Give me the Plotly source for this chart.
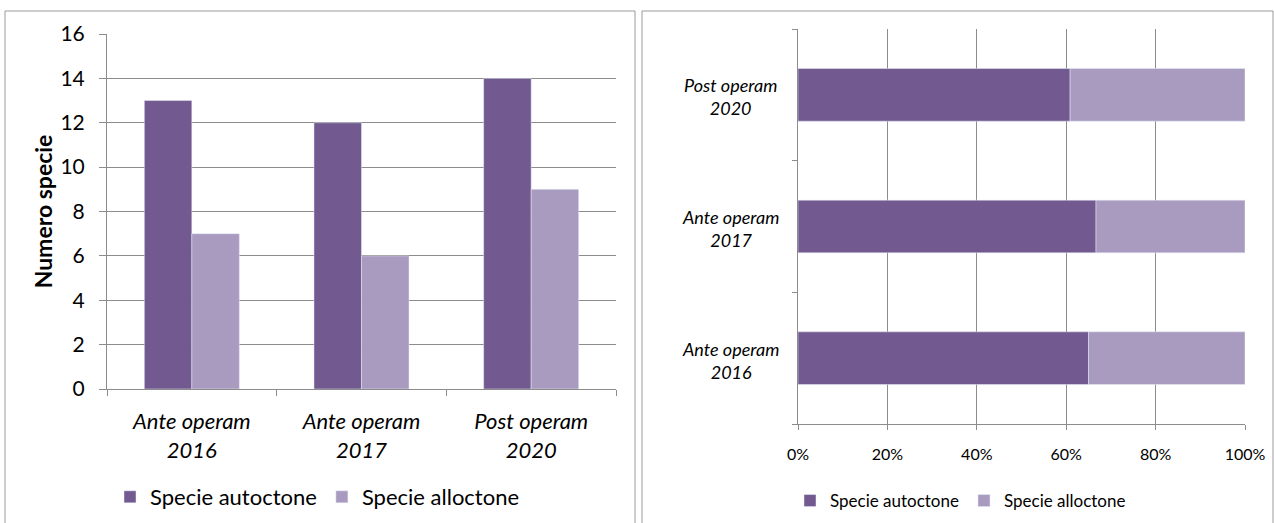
import plotly.graph_objects as go

categories = ["Ante operam 2016", "Ante operam 2017", "Post operam 2020"]
tick_labels = ["Ante operam<br>2016", "Ante operam<br>2017", "Post operam<br>2020"]
autoctone = [13, 12, 14]
alloctone = [7, 6, 9]
series_names = ["Specie autoctone", "Specie alloctone"]
colors = ["#72598F", "#A99ABF"]

pct_auto = [a / (a + b) * 100 for a, b in zip(autoctone, alloctone)]
pct_allo = [b / (a + b) * 100 for a, b in zip(autoctone, alloctone)]

W, H = 1274, 523
FONT = "Lato"
GRID = "#8C8C8C"

def px(x):
    return x / W

def py(y):
    return 1 - y / H

fig = go.Figure()

# left: grouped bars
fig.add_trace(go.Bar(x=categories, y=autoctone, name=series_names[0],
                     marker=dict(color=colors[0]), xaxis="x", yaxis="y",
                     legend="legend", offsetgroup="a"))
fig.add_trace(go.Bar(x=categories, y=alloctone, name=series_names[1],
                     marker=dict(color=colors[1]), xaxis="x", yaxis="y",
                     legend="legend", offsetgroup="b"))

# right: 100% stacked horizontal bars
fig.add_trace(go.Bar(y=categories, x=pct_auto, name=series_names[0], orientation="h",
                     marker=dict(color=colors[0]), xaxis="x2", yaxis="y2",
                     legend="legend2", offsetgroup="s", width=0.4))
fig.add_trace(go.Bar(y=categories, x=pct_allo, base=pct_auto, name=series_names[1],
                     orientation="h", marker=dict(color=colors[1]), xaxis="x2", yaxis="y2",
                     legend="legend2", offsetgroup="s", width=0.4))

annotations = []
for c, t in zip(categories, tick_labels):
    annotations.append(dict(x=px(730), xref="paper", y=c, yref="y2", yshift=-2, text=t,
                            showarrow=False, align="center", xanchor="center",
                            font=dict(family=FONT, size=18, color="#000", style="italic")))

shapes = [
    dict(type="rect", xref="paper", yref="paper", x0=px(5), x1=px(635), y0=py(540), y1=py(11),
         line=dict(color="#9A9A9A", width=1)),
    dict(type="rect", xref="paper", yref="paper", x0=px(642), x1=px(1273), y0=py(540), y1=py(11),
         line=dict(color="#9A9A9A", width=1)),
]

fig.update_layout(
    width=W, height=H,
    margin=dict(l=0, r=0, t=0, b=0, autoexpand=False),
    paper_bgcolor="white", plot_bgcolor="white",
    barmode="group", bargap=0.44, bargroupgap=0,
    font=dict(family=FONT, color="#000"),
    xaxis=dict(domain=[px(107), px(616)], anchor="y", type="category", automargin=False,
               tickvals=categories, ticktext=tick_labels, tickson="boundaries",
               ticks="outside", ticklen=6, tickcolor=GRID, ticklabelstandoff=13,
               showline=True, linecolor=GRID, linewidth=1,
               tickfont=dict(family=FONT, size=22, style="italic"), showgrid=False),
    yaxis=dict(domain=[py(389), py(34)], anchor="x", range=[0, 16], dtick=2, automargin=False,
               ticks="outside", ticklen=7, tickcolor=GRID, ticklabelstandoff=10,
               showline=True, linecolor=GRID, linewidth=1,
               showgrid=True, gridcolor=GRID, gridwidth=1,
               tickfont=dict(family=FONT, size=21),
               title=dict(text="<b>Numero specie</b>", font=dict(family=FONT, size=23), standoff=1)),
    xaxis2=dict(domain=[px(798), px(1245)], anchor="y2", range=[0, 100], dtick=20, automargin=False,
                ticksuffix="%", ticks="outside", ticklen=5, tickcolor=GRID, ticklabelstandoff=11,
                showline=True, linecolor=GRID, linewidth=1,
                showgrid=True, gridcolor=GRID, gridwidth=1,
                tickfont=dict(family=FONT, size=16), zeroline=False),
    yaxis2=dict(domain=[py(424), py(29)], anchor="x2", type="category", automargin=False,
                tickson="boundaries", ticks="outside", ticklen=5, tickcolor=GRID,
                showline=True, linecolor=GRID, linewidth=1, showticklabels=False,
                showgrid=False),
    legend=dict(orientation="h", x=px(110), y=py(497), xanchor="left", yanchor="middle",
                font=dict(family=FONT, size=22), traceorder="normal", bgcolor="rgba(0,0,0,0)"),
    legend2=dict(orientation="h", x=px(790), y=py(501), xanchor="left", yanchor="middle",
                 font=dict(family=FONT, size=17), traceorder="normal", bgcolor="rgba(0,0,0,0)"),
    annotations=annotations,
    shapes=shapes,
)

fig.write_html("out.html",
               post_script="document.body.style.margin='0';document.documentElement.style.overflow='hidden';document.body.style.overflow='hidden';")
